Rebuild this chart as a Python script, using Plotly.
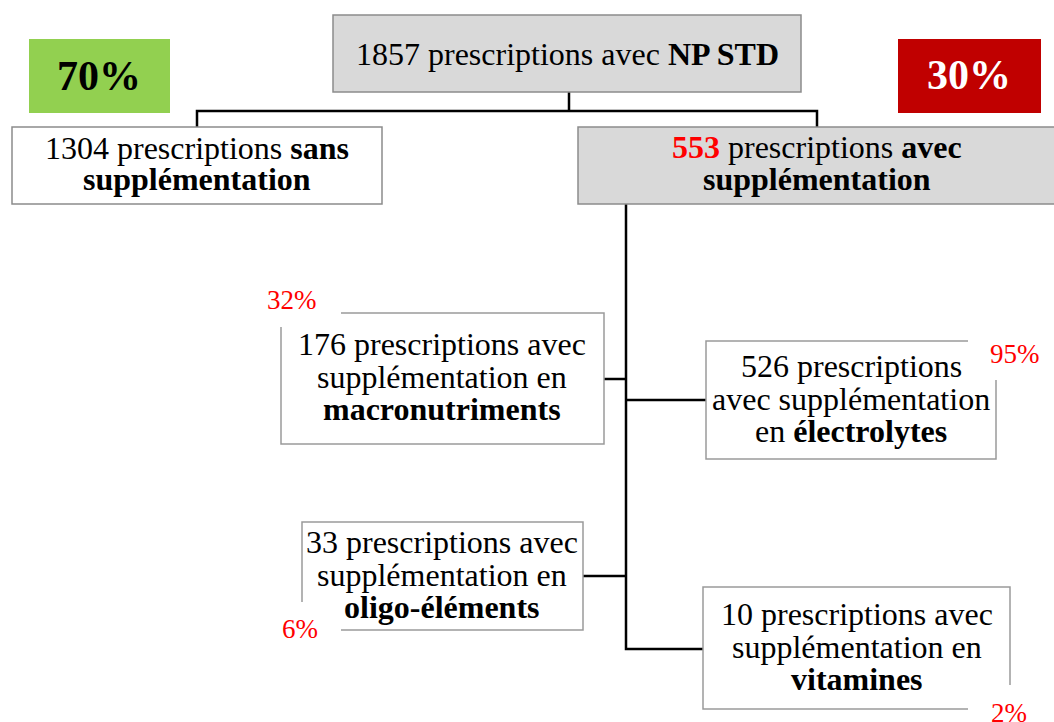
import plotly.graph_objects as go

# ---- data ----
total_prescriptions = 1857
n_sans = 1304
n_avec = 553
share_pct = [70, 30]                      # sans / avec
sub_labels = ["macronutriments", "électrolytes", "oligo-éléments", "vitamines"]
sub_counts = [176, 526, 33, 10]
sub_pct = [32, 95, 6, 2]

SERIF = "Liberation Serif, Times New Roman, serif"
F = 32
FP = 27
OFF = 0.34

fig = go.Figure()
shapes = []
annos = []


def rect(x0, y0, x1, y1, fill="white", line="#9a9a9a", lw=1.5):
    shapes.append(dict(type="rect", xref="x", yref="y", x0=x0, y0=y0, x1=x1, y1=y1,
                       fillcolor=fill, line=dict(color=line, width=lw)))


def path(d, lw=2.5):
    shapes.append(dict(type="path", xref="x", yref="y", path=d,
                       line=dict(color="black", width=lw)))


def text(x, baseline, s, size=F, color="black"):
    annos.append(dict(x=x, y=baseline - OFF * size, xref="x", yref="y", text=s,
                      showarrow=False, xanchor="center", yanchor="middle",
                      font=dict(family=SERIF, size=size, color=color)))


# connectors
path("M 569 92 L 569 111")
path("M 197 127 L 197 111 L 817 111 L 817 127")
path("M 626 204 L 626 649 L 703 649")
path("M 604 379 L 626 379")
path("M 626 400 L 706 400")
path("M 583 576 L 626 576")

# boxes
rect(333, 15, 801, 92, fill="#d9d9d9", line="#8c8c8c")
rect(29, 39, 170, 113, fill="#92d050", line="rgba(0,0,0,0)", lw=0)
rect(898, 39, 1041, 113, fill="#c00000", line="rgba(0,0,0,0)", lw=0)
rect(12, 127, 382, 204, fill="white", line="#8c8c8c")
rect(578, 127, 1060, 204, fill="#d9d9d9", line="#8c8c8c")
rect(281, 313, 604, 444)
rect(706, 341, 996, 459)
rect(302, 522, 583, 630)
rect(703, 587, 1010, 709)

# white patches behind the red percentages
for (x0, y0, x1, y1) in [(250, 280, 341, 327), (968, 330, 1060, 380),
                         (270, 602, 341, 645), (968, 685, 1060, 730)]:
    rect(x0, y0, x1, y1, fill="white", line="rgba(0,0,0,0)", lw=0)

# texts
text(567, 65, f"{total_prescriptions} prescriptions avec <b>NP STD</b>")
text(197, 159, f"{n_sans} prescriptions <b>sans</b>")
text(197, 190, "<b>supplémentation</b>")
text(817, 158, f"<b><span style='color:#ff0000'>{n_avec}</span></b> prescriptions <b>avec</b>")
text(817, 190, "<b>supplémentation</b>")

text(99, 90, f"<b>{share_pct[0]}%</b>", size=42)
text(969, 89, f"<b>{share_pct[1]}%</b>", size=42, color="white")

# sub boxes
text(442, 355, f"{sub_counts[0]} prescriptions avec")
text(442, 388, "supplémentation en")
text(442, 420, f"<b>{sub_labels[0]}</b>")

text(851, 377, f"{sub_counts[1]} prescriptions")
text(851, 410, "avec supplémentation")
text(851, 442, f"en <b>{sub_labels[1]}</b>")

text(442, 553, f"{sub_counts[2]} prescriptions avec")
text(442, 586, "supplémentation en")
text(442, 618, f"<b>{sub_labels[2]}</b>")

text(857, 625, f"{sub_counts[3]} prescriptions avec")
text(857, 658, "supplémentation en")
text(857, 690, f"<b>{sub_labels[3]}</b>")

# red percentages
red = "#ff0000"
text(292, 309, f"{sub_pct[0]}%", size=FP, color=red)
text(1015, 363, f"{sub_pct[1]}%", size=FP, color=red)
text(300, 638, f"{sub_pct[2]}%", size=FP, color=red)
text(1009, 722, f"{sub_pct[3]}%", size=FP, color=red)

fig.update_layout(
    width=1054, height=722,
    margin=dict(l=0, r=0, t=0, b=0),
    paper_bgcolor="white", plot_bgcolor="white",
    xaxis=dict(range=[0, 1054], visible=False, fixedrange=True),
    yaxis=dict(range=[722, 0], visible=False, fixedrange=True),
    shapes=shapes, annotations=annos, showlegend=False,
)

fig.write_html("out.html", config={"displayModeBar": False},
               post_script="document.body.style.margin='0';document.body.style.overflow='hidden';")
